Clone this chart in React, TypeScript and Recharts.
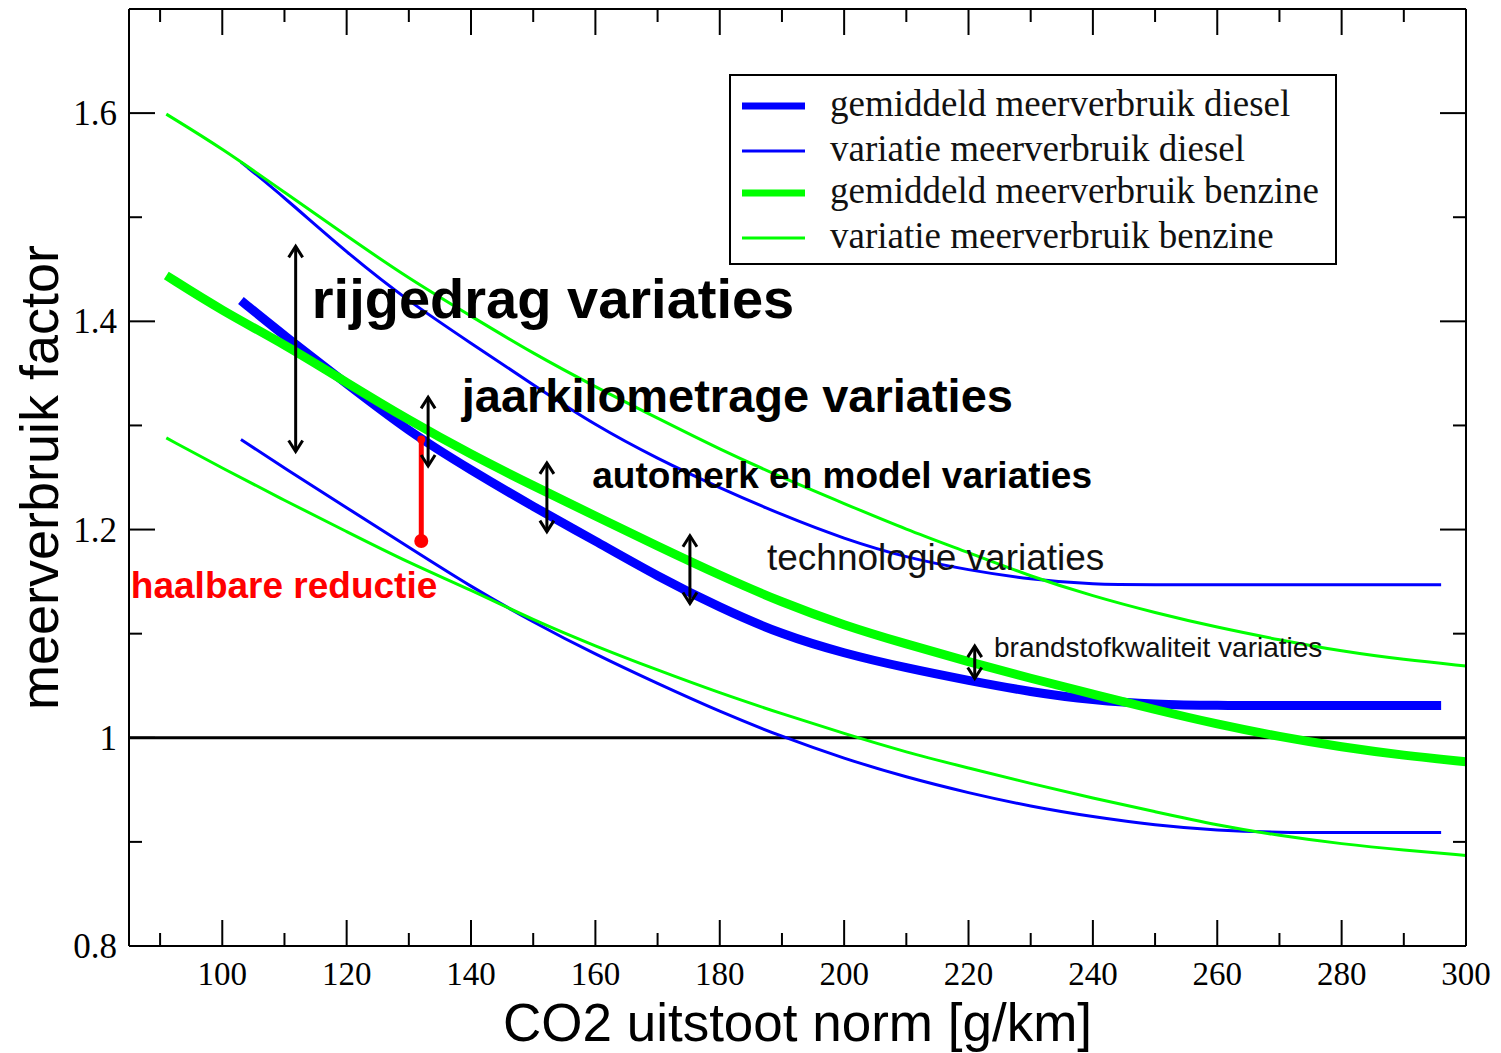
import React from "react"
import { LineChart, Line, XAxis, YAxis, ReferenceLine, ReferenceDot, Legend } from "recharts"

// CO2 norm (g/km) where the curves were read
const benzineCo2 = [91, 100, 110, 120, 130, 140, 150, 160, 170, 180, 190, 200, 210, 220, 230, 240, 250, 260, 270, 280, 290, 300]
const benzineMean = [1.444, 1.41, 1.378, 1.341, 1.305, 1.272, 1.242, 1.213, 1.184, 1.156, 1.13, 1.108, 1.09, 1.073, 1.057, 1.042, 1.027, 1.013, 1.001, 0.991, 0.983, 0.977]
const benzineUpper = [1.599, 1.566, 1.524, 1.482, 1.441, 1.405, 1.369, 1.337, 1.307, 1.277, 1.25, 1.225, 1.2, 1.178, 1.155, 1.136, 1.12, 1.106, 1.094, 1.083, 1.075, 1.069]
const benzineLower = [1.288, 1.259, 1.228, 1.198, 1.168, 1.142, 1.113, 1.088, 1.065, 1.043, 1.023, 1.004, 0.986, 0.971, 0.956, 0.942, 0.929, 0.916, 0.906, 0.898, 0.892, 0.887]

const dieselCo2 = [103, 110, 120, 130, 140, 150, 160, 170, 180, 190, 200, 210, 220, 230, 240, 250, 260, 270, 280, 290, 296]
const dieselMean = [1.42, 1.386, 1.34, 1.294, 1.257, 1.222, 1.189, 1.155, 1.125, 1.099, 1.081, 1.067, 1.055, 1.044, 1.036, 1.032, 1.031, 1.031, 1.031, 1.031, 1.031]
const dieselUpper = [1.553, 1.519, 1.466, 1.419, 1.379, 1.339, 1.3, 1.268, 1.24, 1.214, 1.191, 1.173, 1.161, 1.152, 1.147, 1.147, 1.147, 1.147, 1.147, 1.147, 1.147]
const dieselLower = [1.2865, 1.259, 1.221, 1.183, 1.145, 1.111, 1.08, 1.052, 1.025, 1.001, 0.98, 0.962, 0.947, 0.934, 0.924, 0.916, 0.911, 0.909, 0.909, 0.909, 0.909]

// double arrows marking the spread of each effect
const arrowCo2 = [111.8, 133.1, 152.2, 175.2, 221]
const arrowTop = [1.472, 1.327, 1.264, 1.194, 1.088]
const arrowBottom = [1.275, 1.261, 1.198, 1.129, 1.057]

// achievable reduction (red bar)
const reductionCo2 = [132, 132]
const reductionFactor = [1.2865, 1.189]

const xTicks = [90, 100, 110, 120, 130, 140, 150, 160, 170, 180, 190, 200, 210, 220, 230, 240, 250, 260, 270, 280, 290, 300]
const xMajor = [100, 120, 140, 160, 180, 200, 220, 240, 260, 280, 300]
const yTicks = [0.8, 0.9, 1, 1.1, 1.2, 1.3, 1.4, 1.5, 1.6]
const yMajor = [0.8, 1, 1.2, 1.4, 1.6]

const toPoints = (xs: number[], ys: number[]) => xs.map((x, i) => ({ x, y: ys[i] }))

const series = [
  { name: "gemiddeld meerverbruik diesel", color: "#0000ff", width: 9, legendWidth: 7, data: toPoints(dieselCo2, dieselMean) },
  { name: "variatie meerverbruik diesel", color: "#0000ff", width: 3, legendWidth: 3, data: toPoints(dieselCo2, dieselUpper) },
  { name: "gemiddeld meerverbruik benzine", color: "#00ff00", width: 9, legendWidth: 7, data: toPoints(benzineCo2, benzineMean) },
  { name: "variatie meerverbruik benzine", color: "#00ff00", width: 3, legendWidth: 3, data: toPoints(benzineCo2, benzineUpper) },
]
const extraVariations = [
  { key: "diesel-low", color: "#0000ff", data: toPoints(dieselCo2, dieselLower) },
  { key: "benzine-low", color: "#00ff00", data: toPoints(benzineCo2, benzineLower) },
]

const notes = [
  { text: "rijgedrag variaties", x: 114.4, y: 1.403, size: 56, weight: "bold", color: "#000" },
  { text: "jaarkilometrage variaties", x: 138.5, y: 1.313, size: 47, weight: "bold", color: "#000" },
  { text: "automerk en model variaties", x: 159.5, y: 1.24, size: 37, weight: "bold", color: "#000" },
  { text: "technologie variaties", x: 187.6, y: 1.161, size: 37, weight: "normal", color: "#111" },
  { text: "haalbare reductie", x: 85.3, y: 1.1347, size: 37, weight: "bold", color: "#ff0000" },
  { text: "brandstofkwaliteit variaties", x: 224.1, y: 1.0776, size: 28, weight: "normal", color: "#111" },
]

const SERIF = "'Liberation Serif', 'Times New Roman', serif"
const SANS = "'Liberation Sans', Arial, sans-serif"

const BottomTick = (props: any) => {
  const { x, y, payload } = props
  const major = xMajor.includes(payload.value)
  return (
    <g>
      <line x1={x} x2={x} y1={y} y2={y - (major ? 26 : 13)} stroke="#000" strokeWidth={2} />
      {major && (
        <text x={x} y={y + 39} textAnchor="middle" fontFamily={SERIF} fontSize={33} fill="#000">
          {payload.value}
        </text>
      )}
    </g>
  )
}

const TopTick = (props: any) => {
  const { x, y, payload } = props
  const major = xMajor.includes(payload.value)
  return <line x1={x} x2={x} y1={y} y2={y + (major ? 26 : 13)} stroke="#000" strokeWidth={2} />
}

const LeftTick = (props: any) => {
  const { x, y, payload } = props
  const major = yMajor.includes(payload.value)
  return (
    <g>
      <line x1={x} x2={x + (major ? 26 : 13)} y1={y} y2={y} stroke="#000" strokeWidth={2} />
      {major && (
        <text x={x - 12} y={y + 12} textAnchor="end" fontFamily={SERIF} fontSize={35} fill="#000">
          {payload.value}
        </text>
      )}
    </g>
  )
}

const RightTick = (props: any) => {
  const { x, y, payload } = props
  const major = yMajor.includes(payload.value)
  return <line x1={x} x2={x - (major ? 26 : 13)} y1={y} y2={y} stroke="#000" strokeWidth={2} />
}

const arrowHead = (props: any) => {
  const { cx, cy, index } = props
  const d = index === 0 ? 11 : -11
  return (
    <polyline
      key={`ah-${index}-${cx}`}
      points={`${cx - 7},${cy + d} ${cx},${cy} ${cx + 7},${cy + d}`}
      fill="none"
      stroke="#000"
      strokeWidth={3}
    />
  )
}

const reductionDot = (props: any) => {
  const { cx, cy, index } = props
  return <circle key={`rd-${index}`} cx={cx} cy={cy} r={index === 0 ? 4 : 7} fill="#ff0000" />
}

const rowY = [32, 77, 119, 164]

const LegendBox = () => (
  <svg width={608} height={191}>
    <rect x={1} y={1} width={606} height={189} fill="#fff" stroke="#000" strokeWidth={2} />
    {series.map((s, i) => (
      <g key={s.name}>
        <line x1={13} x2={76} y1={rowY[i]} y2={rowY[i]} stroke={s.color} strokeWidth={s.legendWidth} />
        <text x={101} y={rowY[i] + 10} fontFamily={SERIF} fontSize={37} fill="#111">
          {s.name}
        </text>
      </g>
    ))}
  </svg>
)

export default function App() {
  return (
    <div style={{ width: 1490, height: 1044 }}>
      <LineChart width={1490} height={1044} margin={{ top: 0, right: 0, bottom: 0, left: 0 }}>
        <XAxis
          dataKey="x"
          type="number"
          domain={[85, 300]}
          ticks={xTicks}
          interval={0}
          allowDataOverflow
          height={106}
          tickSize={0}
          tickMargin={0}
          tickLine={false}
          tick={<BottomTick />}
          axisLine={{ stroke: "#000", strokeWidth: 2 }}
          label={(p: any) => (
            <text
              x={p.viewBox.x + p.viewBox.width / 2}
              y={p.viewBox.y + 95}
              textAnchor="middle"
              fontFamily={SANS}
              fontSize={53}
              fill="#000"
            >
              CO2 uitstoot norm [g/km]
            </text>
          )}
        />
        <XAxis
          xAxisId="top"
          orientation="top"
          dataKey="x"
          type="number"
          domain={[85, 300]}
          ticks={xTicks}
          interval={0}
          allowDataOverflow
          height={1}
          tickSize={0}
          tickMargin={0}
          tickLine={false}
          tick={<TopTick />}
          axisLine={{ stroke: "#000", strokeWidth: 2 }}
        />
        <YAxis
          type="number"
          domain={[0.8, 1.7]}
          ticks={yTicks}
          interval={0}
          allowDataOverflow
          width={121}
          tickSize={0}
          tickMargin={0}
          tickLine={false}
          tick={<LeftTick />}
          axisLine={{ stroke: "#000", strokeWidth: 2 }}
          label={(p: any) => {
            const cx = p.viewBox.x + 50
            const cy = p.viewBox.y + p.viewBox.height / 2
            return (
              <text
                x={cx}
                y={cy}
                transform={`rotate(-90, ${cx}, ${cy})`}
                textAnchor="middle"
                fontFamily={SANS}
                fontSize={54}
                fill="#000"
              >
                meerverbruik factor
              </text>
            )
          }}
        />
        <YAxis
          yAxisId="right"
          orientation="right"
          type="number"
          domain={[0.8, 1.7]}
          ticks={yTicks}
          interval={0}
          allowDataOverflow
          width={32}
          tickSize={0}
          tickMargin={0}
          tickLine={false}
          tick={<RightTick />}
          axisLine={{ stroke: "#000", strokeWidth: 2 }}
        />
        <ReferenceLine y={1} stroke="#000" strokeWidth={3} />

        {extraVariations.map((s) => (
          <Line
            key={s.key}
            data={s.data}
            dataKey="y"
            type="basis"
            stroke={s.color}
            strokeWidth={3}
            dot={false}
            legendType="none"
            isAnimationActive={false}
          />
        ))}
        {series.map((s) => (
          <Line
            key={s.name}
            name={s.name}
            data={s.data}
            dataKey="y"
            type="basis"
            stroke={s.color}
            strokeWidth={s.width}
            dot={false}
            isAnimationActive={false}
          />
        ))}

        {arrowCo2.map((x, i) => (
          <Line
            key={`arrow-${i}`}
            data={[{ x, y: arrowTop[i] }, { x, y: arrowBottom[i] }]}
            dataKey="y"
            type="linear"
            stroke="#000"
            strokeWidth={3}
            dot={arrowHead}
            activeDot={false}
            legendType="none"
            isAnimationActive={false}
          />
        ))}
        <Line
          data={toPoints(reductionCo2, reductionFactor)}
          dataKey="y"
          type="linear"
          stroke="#ff0000"
          strokeWidth={5}
          dot={reductionDot}
          activeDot={false}
          legendType="none"
          isAnimationActive={false}
        />

        {notes.map((n) => (
          <ReferenceDot
            key={n.text}
            x={n.x}
            y={n.y}
            r={0}
            shape={(p: any) => (
              <text
                x={p.cx}
                y={p.cy}
                fontFamily={SANS}
                fontSize={n.size}
                fontWeight={n.weight}
                fill={n.color}
              >
                {n.text}
              </text>
            )}
          />
        ))}

        <Legend
          layout="vertical"
          align="center"
          verticalAlign="middle"
          content={() => <LegendBox />}
          wrapperStyle={{ left: 721, top: 66, width: 608, height: 191 }}
        />
      </LineChart>
    </div>
  )
}
